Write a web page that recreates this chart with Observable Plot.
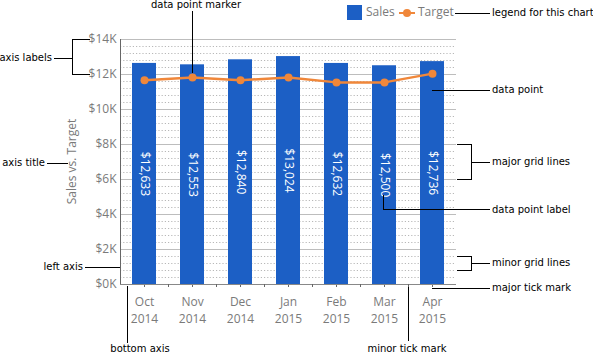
<!DOCTYPE html>
<html><head><meta charset="utf-8">
<script src="https://cdn.jsdelivr.net/npm/d3@7"></script>
<script src="https://cdn.jsdelivr.net/npm/@observablehq/plot@0.6"></script>
<style>body{margin:0;background:#fff} svg{display:block}</style>
</head><body><div id="chart"></div>
<script>
const months = ["Oct","Nov","Dec","Jan","Feb","Mar","Apr"];
const years = ["2014","2014","2014","2015","2015","2015","2015"];
const sales = [12633,12553,12840,13024,12632,12500,12736];
const target = [11670,11830,11670,11830,11550,11550,12050];
const majorTicks = [0,2000,4000,6000,8000,10000,12000,14000];
const minorTicks = [400,800,1200,1600,2400,2800,3200,3600,4400,4800,5200,5600,6400,6800,7200,7600,8400,8800,9200,9600,10400,10800,11200,11600,12400,12800,13200,13600];
const seriesNames = ["Sales","Target"];
const colors = ["#1c5fc5","#f0873a"];
const axisTitle = "Sales vs. Target";

const data = months.map((m,i)=>({key: m+" "+years[i], sales: sales[i], target: target[i]}));
const font = "'Open Sans', sans-serif";
const aFont = "'DejaVu Sans', sans-serif";

const plot = Plot.plot({
  width: 593, height: 353,
  marginLeft: 120, marginRight: 137, marginTop: 39, marginBottom: 69,
  style: {fontFamily: font, fontSize: "12px", background: "#fff", overflow: "visible"},
  x: {type: "band", domain: data.map(d=>d.key), paddingInner: 0.5, paddingOuter: 0.25, axis: null},
  y: {domain: [0, 14000], axis: null},
  marks: [
    Plot.ruleY(minorTicks, {stroke:"#b8b8b8", strokeDasharray:"1.2,2"}),
    Plot.ruleY(majorTicks, {stroke:"#bdbdbd"}),
    Plot.barY(data, {x:"key", y:"sales", fill: colors[0]}),
    Plot.text(data, {x:"key", y: d=>d.sales/2, text: d=>d3.format("$,")(d.sales), rotate: 90, fill:"white", fontSize: 12}),
    Plot.line(data, {x:"key", y:"target", stroke: colors[1], strokeWidth: 2.5}),
    Plot.dot(data, {x:"key", y:"target", fill: colors[1], r: 4}),
    Plot.axisY(majorTicks, {tickSize: 0, tickPadding: 4, tickFormat: d=>`$${d/1000}K`, fill:"#7a7a7a", fontSize: 12, label: null}),
    Plot.axisX({tickSize: 3, tickPadding: 7, stroke: "#666", tickFormat: d => d.replace(" ", "\n"), fill: "#7a7a7a", fontSize: 12, lineHeight: 1.4, label: null})
  ]
});
document.getElementById("chart").append(plot);

const sx = plot.scale("x"), sy = plot.scale("y");
const bw = sx.bandwidth, step = sx.step;
const cx = k => sx.apply(k) + bw/2;
const bound = k => sx.apply(k) - (step - bw)/2;
const svg = d3.select(plot);
const g = svg.append("g");
const x0 = sx.range[0], x1 = sx.range[1];
const yTop = sy.apply(14000), yBot = sy.apply(0);
function line(a,b,c,d,col="#000",w=1){ g.append("line").attr("x1",a).attr("y1",b).attr("x2",c).attr("y2",d).attr("stroke",col).attr("stroke-width",w).attr("shape-rendering","crispEdges"); }
function text(x,y,s,anchor="start",opts={}){ return g.append("text").attr("x",x).attr("y",y).attr("text-anchor",anchor).attr("dominant-baseline","middle").attr("font-family",opts.font||aFont).attr("font-size",opts.size||10).attr("fill",opts.fill||"#000").text(s); }

// axis lines
line(x0+0.5, yTop, x0+0.5, yBot+0.5, "#666");
line(x0, yBot+0.5, x1, yBot+0.5, "#888");
// minor ticks at category boundaries
data.slice(1).forEach(d => line(bound(d.key)+0.5, yBot, bound(d.key)+0.5, yBot+3, "#666"));

// axis title
g.append("text").attr("transform",`translate(73,${(yTop+yBot)/2}) rotate(-90)`).attr("text-anchor","middle").attr("dominant-baseline","middle").attr("font-family",font).attr("font-size",12).attr("fill","#7a7a7a").text(axisTitle);

// legend
g.append("rect").attr("x",347).attr("y",5).attr("width",15).attr("height",15).attr("fill",colors[0]);
text(366,13,seriesNames[0],"start",{font,size:12,fill:"#7a7a7a"});
line(399,13,415,13,colors[1],2.5);
g.append("circle").attr("cx",407).attr("cy",13).attr("r",4).attr("fill",colors[1]);
text(418,13,seriesNames[1],"start",{font,size:12,fill:"#7a7a7a"});

// annotations
const tx = 492;
const nov = data[1], mar = data[5], apr = data[6];
text(196,5,"data point marker","middle");
line(cx(nov.key)+0.5,11,cx(nov.key)+0.5,sy.apply(nov.target)-4);
text(52,58,"axis labels","end");
line(54,58.5,72,58.5); line(72.5,yTop,72.5,sy.apply(12000)+1); line(72,yTop+0.5,90,yTop+0.5); line(72,sy.apply(12000)+0.5,90,sy.apply(12000)+0.5);
line(455,13.5,490,13.5); text(tx,13,"legend for this chart");
line(cx(apr.key),90.5,490,90.5); text(tx,90,"data point");
const g8 = sy.apply(8000), g6 = sy.apply(6000);
line(457,g8+0.5,471,g8+0.5); line(457,g6+0.5,471,g6+0.5); line(471.5,g8,471.5,g6+1); line(471,(g8+g6)/2+0.5,490,(g8+g6)/2+0.5); text(tx,(g8+g6)/2,"major grid lines");
line(cx(mar.key)-0.5,195,cx(mar.key)-0.5,210); line(cx(mar.key)-1,209.5,490,209.5); text(tx,210,"data point label");
const m1 = sy.apply(1600), m2 = sy.apply(800);
line(457,m1+0.5,471,m1+0.5); line(457,m2+0.5,471,m2+0.5); line(471.5,m1,471.5,m2+1); line(471,(m1+m2)/2+0.5,490,(m1+m2)/2+0.5); text(tx,(m1+m2)/2,"minor grid lines");
line(cx(apr.key),yBot+4.5,490,yBot+4.5); text(tx,yBot+4,"major tick mark");
line(bound(apr.key)+0.5,yBot+3,bound(apr.key)+0.5,341); text(bound(apr.key)-1,349,"minor tick mark","middle");
text(83,267,"left axis","end"); line(85,267.5,x0,267.5);
text(45,163,"axis title","end"); line(47,163.5,68,163.5);
line(127.5,yBot+2,127.5,343); text(140,349,"bottom axis","middle");
</script></body></html>
